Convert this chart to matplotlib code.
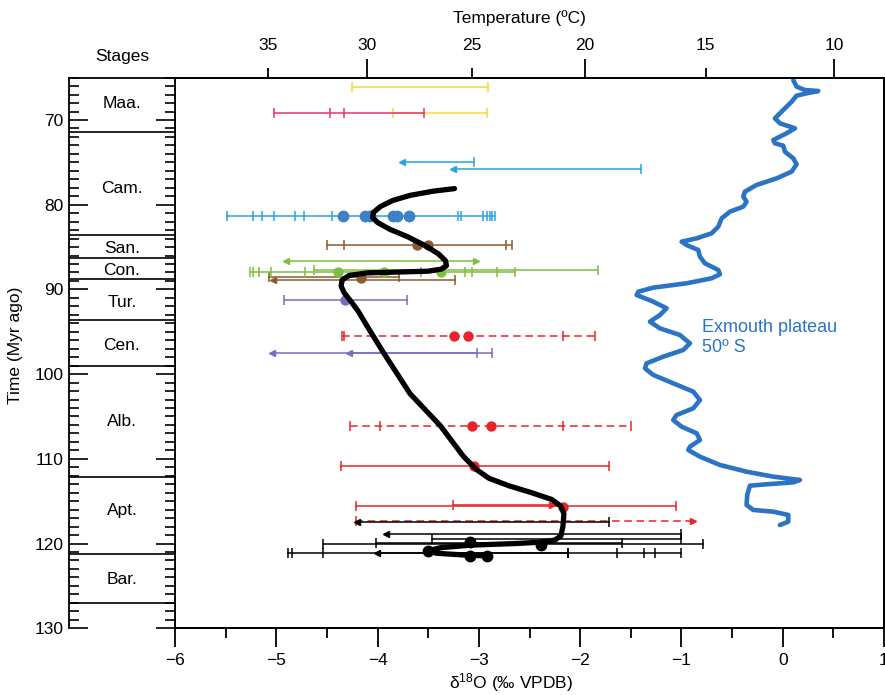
import matplotlib.pyplot as plt

plt.rcParams['font.family'] = ['Liberation Sans', 'DejaVu Sans']
plt.rcParams['mathtext.fontset'] = 'custom'
plt.rcParams['mathtext.rm'] = 'Liberation Sans'
plt.rcParams['mathtext.default'] = 'regular'
plt.rcParams['font.size'] = 12.5

# stages column
stage_names = ['Maa.', 'Cam.', 'San.', 'Con.', 'Tur.', 'Cen.', 'Alb.', 'Apt.', 'Bar.']
stage_label_age = [68.1, 78.1, 85.2, 87.8, 91.6, 96.6, 105.6, 116.1, 124.3]
stage_bounds = [71.4, 83.6, 86.3, 88.8, 93.6, 99.0, 112.1, 121.2, 127.0]

# temperature scale on top (label, d18O position)
temp_labels = [35, 30, 25, 20, 15, 10]
temp_pos = [-5.08, -4.10, -3.07, -1.95, -0.76, 0.51]

# range bars: (age, tick positions), line spans min..max
yellow_bars = [(66.1, [-4.25, -2.91]), (69.2, [-3.85, -2.92])]
magenta_bars = [(69.2, [-5.02, -4.47, -4.33, -3.54])]
blue_bars = [(81.3, [-5.49, -5.23, -5.14, -5.02, -4.82, -4.73, -4.45,
                     -3.21, -3.18, -2.96, -2.92, -2.89, -2.87, -2.84])]
brown_bars = [(84.8, [-4.50, -4.33, -2.73, -2.67]), (88.55, [-5.07, -3.79])]
green_bars = [(87.7, [-4.63, -1.82]),
              (88.0, [-5.26, -5.23, -5.17, -5.05, -4.72, -3.57, -3.14, -3.07, -2.82, -2.64])]
purple_bars = [(91.2, [-4.92, -3.71])]
red_dash_bars = [(95.5, [-4.35, -4.33, -2.17, -1.85]), (106.1, [-4.27, -3.98, -2.17, -1.50])]
red_bars = [(110.9, [-4.36, -1.72]), (115.6, [-4.21, -1.05])]
black_bars = [(119.5, [-3.46, -1.00]), (119.9, [-4.02, -1.59]), (120.1, [-4.54, -0.79]),
              (121.1, [-4.88, -4.84, -4.54, -2.12, -1.64, -1.37, -1.26, -1.00])]

# arrows: (age, arrow tip, capped end)
blue_arrows = [(74.9, -3.76, -3.05), (75.8, -3.26, -1.40)]
brown_arrows = [(88.85, -5.03, -3.24)]
purple_arrows = [(97.5, -5.04, -2.87), (97.5, -4.28, -3.02)]
red_arrows = [(115.5, -2.28, -3.26)]
red_dash_arrows = [(117.3, -0.89, -4.21)]
black_arrows = [(117.45, -4.20, -1.72), (118.9, -3.92, -1.00), (121.1, -4.01, -2.12)]
green_double = [(86.7, -4.90, -3.03)]

# mean values (dots): (age, positions)
blue_dots = [(81.3, [-4.34, -4.12, -4.07, -3.85, -3.81, -3.69])]
brown_dots = [(84.8, [-3.61, -3.50]), (88.7, [-4.16])]
green_dots = [(87.9, [-4.39, -3.94, -3.37])]
purple_dots = [(91.2, [-4.32])]
red_dots = [(95.5, [-3.25, -3.11]), (106.1, [-3.07, -2.88]), (110.9, [-3.05]), (115.7, [-2.17])]
black_dot_x = [-3.50, -3.09, -3.09, -2.92, -2.39]
black_dot_age = [120.9, 119.8, 121.5, 121.5, 120.2]

# smoothed compilation curve
curve_x = [-3.24, -3.45, -3.68, -3.85, -3.97, -4.04, -4.05, -4.00, -3.88, -3.70, -3.52,
           -3.40, -3.33, -3.32, -3.37, -3.50, -3.80, -4.10, -4.28, -4.35, -4.36, -4.33,
           -4.27, -4.19, -4.10, -3.94, -3.68, -3.38, -3.15, -3.02, -2.90, -2.70, -2.48,
           -2.28, -2.19, -2.16, -2.17, -2.19, -2.25, -2.40, -2.63, -3.09, -3.38, -3.50,
           -3.42, -3.09, -2.92]
curve_age = [78.1, 78.4, 78.9, 79.5, 80.2, 80.9, 81.5, 82.1, 82.9, 83.8, 84.9,
             85.8, 86.6, 87.2, 87.6, 87.85, 87.95, 88.05, 88.35, 88.9, 89.6, 90.4,
             91.3, 92.6, 94.4, 97.5, 102.3, 106.1, 109.75, 111.3, 112.3, 113.2, 114.0,
             114.8, 115.6, 116.5, 118.0, 119.1, 119.6, 119.85, 120.0, 120.2, 120.5, 120.85,
             121.15, 121.4, 121.45]

# Exmouth plateau record
exm_x = [0.104, 0.137, 0.219, 0.351, 0.236, 0.137, 0.088, 0.005, -0.077, -0.028, 0.121,
         0.038, -0.093, -0.077, 0.005, 0.022, 0.104, 0.137, 0.088, -0.060, -0.258,
         -0.373, -0.389, -0.357, -0.389, -0.521, -0.603, -0.636, -0.702, -0.850, -0.998,
         -0.949, -0.834, -0.817, -0.768, -0.636, -0.620, -0.702, -0.949, -1.278, -1.426,
         -1.442, -1.278, -1.146, -1.212, -1.311, -1.212, -1.015, -0.916, -0.982, -1.179,
         -1.344, -1.360, -1.278, -1.081, -0.883, -0.817, -0.883, -1.048, -1.081, -0.998,
         -0.850, -0.817, -0.916, -0.932, -0.817, -0.620, -0.357, -0.093, 0.170, 0.104,
         -0.159, -0.324, -0.350, -0.357, -0.291, -0.093, 0.055, 0.055, -0.028]
exm_age = [65.28, 66.06, 66.46, 66.58, 66.85, 67.13, 67.84, 68.82, 69.80, 70.39, 70.98,
           71.57, 72.36, 72.75, 73.03, 73.74, 74.53, 75.23, 76.10, 76.89, 77.67,
           78.46, 79.05, 79.64, 80.23, 80.82, 81.61, 82.59, 83.38, 83.97, 84.36,
           84.76, 85.35, 86.14, 86.92, 87.71, 88.22, 88.69, 89.28, 89.79, 90.27,
           90.66, 91.45, 92.23, 93.02, 93.81, 94.60, 95.38, 96.37, 97.15, 97.94,
           98.73, 99.32, 100.10, 101.09, 102.07, 103.06, 104.04, 104.83, 105.42, 106.21,
           106.99, 107.78, 108.57, 108.96, 109.75, 110.73, 111.52, 112.11, 112.50, 112.78,
           113.01, 113.17, 114.27, 115.45, 116.04, 116.24, 116.63, 117.42, 117.82]

C_YEL = '#f2dc2e'
C_MAG = '#e5327a'
C_BLU = '#2aa3de'
C_BLUDOT = '#3c80c6'
C_BRN = '#8c5a2e'
C_GRN = '#7dbf3f'
C_PUR = '#7a6ebb'
C_RED = '#e8242a'
C_EXM = '#2b74c4'
DASH = (0, (5, 3))


def draw_bar(ax, age, ticks, color, ls='-'):
    ax.plot([min(ticks), max(ticks)], [age, age], color=color, lw=1.1, ls=ls, zorder=2)
    ax.plot(ticks, [age] * len(ticks), ls='none', marker='|', ms=7.5, mew=1.1,
            color=color, zorder=2)


def draw_arrow(ax, age, tip, cap, color, ls='-', both=False):
    ax.plot([tip, cap], [age, age], color=color, lw=1.1, ls=ls, zorder=2)
    m = '<' if tip < cap else '>'
    ax.plot([tip], [age], marker=m, ms=5, color=color, ls='none', zorder=2)
    if both:
        m2 = '>' if m == '<' else '<'
        ax.plot([cap], [age], marker=m2, ms=5, color=color, ls='none', zorder=2)
    else:
        ax.plot([cap], [age], marker='|', ms=7.5, mew=1.1, color=color, ls='none', zorder=2)


def draw_dots(ax, age, xs, color, ms=7.5):
    ax.plot(xs, [age] * len(xs), ls='none', marker='o', ms=ms, color=color,
            mec='none', zorder=3)


fig = plt.figure(figsize=(8.85, 6.95), dpi=100)

H = 695.0
ax_bottom = 1 - 628.2 / H
ax_height = (628.2 - 77.65) / H

# ---- main panel
ax = fig.add_axes([175 / 885, ax_bottom, (884 - 175) / 885, ax_height])
ax.set_xlim(-6, 1)
ax.set_ylim(130, 65)

for age, t in yellow_bars:
    draw_bar(ax, age, t, C_YEL)
for age, t in magenta_bars:
    draw_bar(ax, age, t, C_MAG)
for age, t in blue_bars:
    draw_bar(ax, age, t, C_BLU)
for age, t in brown_bars:
    draw_bar(ax, age, t, C_BRN)
for age, t in green_bars:
    draw_bar(ax, age, t, C_GRN)
for age, t in purple_bars:
    draw_bar(ax, age, t, C_PUR)
for age, t in red_dash_bars:
    draw_bar(ax, age, t, C_RED, ls=DASH)
for age, t in red_bars:
    draw_bar(ax, age, t, C_RED)
for age, t in black_bars:
    draw_bar(ax, age, t, 'black')

for age, tip, cap in blue_arrows:
    draw_arrow(ax, age, tip, cap, C_BLU)
for age, tip, cap in brown_arrows:
    draw_arrow(ax, age, tip, cap, C_BRN)
for age, tip, cap in purple_arrows:
    draw_arrow(ax, age, tip, cap, C_PUR)
for age, tip, cap in red_arrows:
    draw_arrow(ax, age, tip, cap, C_RED)
for age, tip, cap in red_dash_arrows:
    draw_arrow(ax, age, tip, cap, C_RED, ls=DASH)
for age, tip, cap in black_arrows:
    draw_arrow(ax, age, tip, cap, 'black')
for age, tip, cap in green_double:
    draw_arrow(ax, age, tip, cap, C_GRN, both=True)

for age, xs in blue_dots:
    draw_dots(ax, age, xs, C_BLUDOT, ms=8.5)
for age, xs in brown_dots:
    draw_dots(ax, age, xs, C_BRN)
for age, xs in green_dots:
    draw_dots(ax, age, xs, C_GRN)
for age, xs in purple_dots:
    draw_dots(ax, age, xs, C_PUR)
for age, xs in red_dots:
    draw_dots(ax, age, xs, C_RED)
ax.plot(black_dot_x, black_dot_age, ls='none', marker='o', ms=7.5, color='black', zorder=3)

ax.plot(curve_x, curve_age, color='black', lw=3.8, solid_capstyle='round',
        solid_joinstyle='round', zorder=5)
ax.plot(exm_x, exm_age, color=C_EXM, lw=3.3, solid_capstyle='round',
        solid_joinstyle='round', zorder=5)
ax.text(-0.80, 95.7, 'Exmouth plateau\n50º S', color=C_EXM, fontsize=13,
        ha='left', va='center', linespacing=1.25)

ax.set_xticks(range(-6, 2))
ax.set_xticks([v + 0.5 for v in range(-6, 1)], minor=True)
ax.set_yticks([])
ax.tick_params(axis='x', which='major', direction='out', length=14, width=1.3, pad=4)
ax.tick_params(axis='x', which='minor', direction='out', length=7.5, width=1.3)
for s in ax.spines.values():
    s.set_linewidth(1.3)

# temperature axis on top
ax2 = ax.twiny()
ax2.set_xlim(-6, 1)
ax2.set_xticks([p for p, t in zip(temp_pos, temp_labels) if t % 10 == 0])
ax2.set_xticklabels([str(t) for t in temp_labels if t % 10 == 0])
ax2.set_xticks([p for p, t in zip(temp_pos, temp_labels) if t % 10 != 0], minor=True)
ax2.set_xticklabels([str(t) for t in temp_labels if t % 10 != 0], minor=True)
ax2.tick_params(axis='x', which='major', direction='out', length=14, width=1.3, pad=4)
ax2.tick_params(axis='x', which='minor', direction='out', length=7.5, width=1.3, pad=10.5)
for s in ax2.spines.values():
    s.set_linewidth(1.3)

# ---- stages panel
axs = fig.add_axes([69 / 885, ax_bottom, (175 - 69) / 885, ax_height])
axs.set_xlim(0, 1)
axs.set_ylim(130, 65)
for b in stage_bounds:
    axs.axhline(b, color='black', lw=1.2)
for name, age in zip(stage_names, stage_label_age):
    axs.text(0.5, age, name, ha='center', va='center', fontsize=12.5)
axs.set_xticks([])
axs.set_yticks(range(70, 131, 10))
axs.set_yticks(range(65, 131), minor=True)
axs.tick_params(axis='y', which='both', direction='in', left=True, right=True, width=1.2)
axs.tick_params(axis='y', which='major', length=14, pad=4)
axs.tick_params(axis='y', which='minor', length=7.5)
axs.spines['bottom'].set_visible(False)
for s in ['top', 'left', 'right']:
    axs.spines[s].set_linewidth(1.3)

fig.text(122 / 885, 1 - 57 / H, 'Stages', ha='center', va='center', fontsize=12.5)
fig.text(519 / 885, 1 - 18 / H, 'Temperature (ºC)', ha='center', va='center', fontsize=12.5)
fig.text(511 / 885, 1 - 683 / H, r'δ$^{18}$O (‰ VPDB)', ha='center', va='center', fontsize=12.5)
fig.text(16 / 885, 1 - 345 / H, 'Time (Myr ago)', ha='center', va='center',
         rotation=90, fontsize=12.5)

plt.savefig('out.png', dpi=100)
